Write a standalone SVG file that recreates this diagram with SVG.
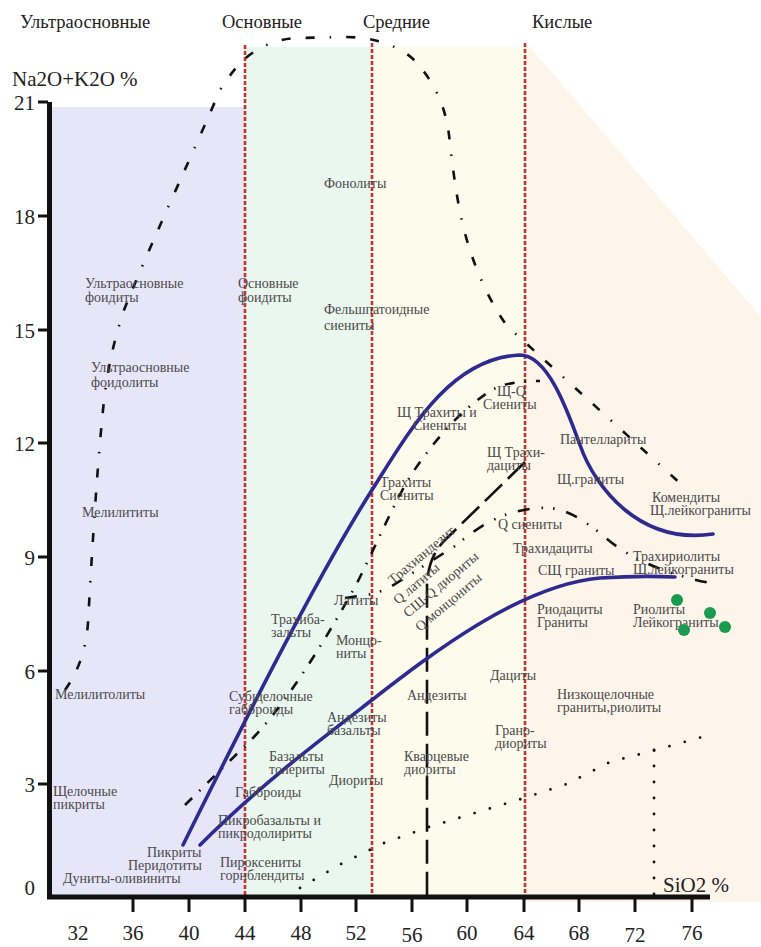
<svg xmlns="http://www.w3.org/2000/svg" width="761" height="947" viewBox="0 0 761 947">
<style>
.lbl{font-size:14px;fill:#4a4a4a}
.hd{font-size:18.5px;fill:#222}
.ax{font-size:21px;fill:#222}
.red{stroke:#c4332f;stroke-width:2.6;stroke-dasharray:4 2;fill:none}
.blue{stroke:#2e2a8f;stroke-width:3.6;fill:none;stroke-linecap:round}
.dd{stroke:#111;stroke-width:2.6;fill:none}
.tick{stroke:#111;stroke-width:3}
</style>
<rect width="761" height="947" fill="#fff"/>
<g id="backgrounds">
<rect x="52" y="107" width="193" height="790" fill="#e7e6f8"/>
<rect x="245" y="47" width="127" height="850" fill="#eaf7ef"/>
<rect x="372" y="47" width="153" height="850" fill="#fdfbec"/>
<polygon points="525,47 530,47 761,317 761,902 525,902" fill="#fdf5ea"/>
</g>
<g id="class-boundaries">
<line class="red" x1="245" y1="45" x2="245" y2="897"/>
<line class="red" x1="372" y1="43" x2="372" y2="897"/>
<line class="red" x1="525" y1="43" x2="525" y2="897"/>
</g>
<g id="headings" font-family="Liberation Serif, Times New Roman, serif">
<text class="hd" x="20" y="28">Ультраосновные</text>
<text class="hd" x="222" y="28">Основные</text>
<text class="hd" x="363" y="28">Средние</text>
<text class="hd" x="532" y="28">Кислые</text>
</g>
<g id="connectors">
<path class="dd" stroke-dasharray="9 15 9 15 1.5 15" d="M65,690 C78,672 86,650 88,623 C91,570 96,480 103,410 C107,370 114,340 124,310 C150,245 190,160 220,90 C230,75 237,65 247,57 C262,45 280,38 300,38 L345,37 C372,37 395,44 412,58 C432,78 445,103 449,135 C453,170 458,215 470,250 C478,275 490,302 507,326 L682,485"/>
<path class="dd" stroke-dasharray="10 10 1.5 10" d="M185,805 L248,743 C280,712 320,650 356,585 C375,548 395,500 413,472 C435,440 460,410 492,390 C505,383 520,381 540,381"/>
<path class="dd" stroke-dasharray="12 12 1.5 10 1.5 12" d="M345,598 L365,595 C375,594 385,590 392,586 L455,546 C470,534 485,522 505,515 C520,510 535,507 550,508 C570,510 585,522 600,533 C610,542 620,550 640,560 C660,570 685,578 710,583"/>
<path class="dd" stroke-dasharray="24 8" d="M525,462 L445,540 Q428,557 427,585 L427,897"/>
<path stroke="#111" stroke-width="2.8" stroke-linecap="round" fill="none" stroke-dasharray="0 15.9" d="M300,888 L341,864 L384,843 L429,827 L475,813 L521,799 L567,784 L610,762 L656,750 L702,737"/>
<path stroke="#111" stroke-width="2.8" stroke-linecap="round" fill="none" stroke-dasharray="0 16" d="M654,750 L654,896"/>
<path class="blue" d="M183,845 C240,730 315,580 372,490 C410,430 450,358 520,355 C548,355 568,412 580,445 C595,488 640,545 713,534"/>
<path class="blue" d="M200,845 C260,785 320,740 372,700 C430,655 520,585 600,578 C630,576 655,576 675,577"/>
</g>
<g id="axes">
<line x1="49.5" y1="102" x2="49.5" y2="899" stroke="#111" stroke-width="5"/>
<line x1="47" y1="897" x2="710" y2="897" stroke="#111" stroke-width="5"/>
<g class="tick">
<line x1="38" y1="102" x2="48" y2="102"/>
<line x1="38" y1="216" x2="48" y2="216"/>
<line x1="38" y1="330" x2="48" y2="330"/>
<line x1="38" y1="443" x2="48" y2="443"/>
<line x1="38" y1="557" x2="48" y2="557"/>
<line x1="38" y1="671" x2="48" y2="671"/>
<line x1="38" y1="784" x2="48" y2="784"/>
<line x1="133" y1="897" x2="133" y2="912"/>
<line x1="189" y1="897" x2="189" y2="912"/>
<line x1="245" y1="897" x2="245" y2="912"/>
<line x1="301" y1="897" x2="301" y2="912"/>
<line x1="356" y1="897" x2="356" y2="912"/>
<line x1="412" y1="897" x2="412" y2="912"/>
<line x1="467" y1="897" x2="467" y2="912"/>
<line x1="524" y1="897" x2="524" y2="912"/>
<line x1="579" y1="897" x2="579" y2="912"/>
<line x1="635" y1="897" x2="635" y2="912"/>
<line x1="692" y1="897" x2="692" y2="912"/>
</g>
<g font-family="Liberation Serif, Times New Roman, serif">
<g class="ax" text-anchor="end">
<text x="35" y="110">21</text>
<text x="35" y="224">18</text>
<text x="35" y="338">15</text>
<text x="35" y="451">12</text>
<text x="35" y="565">9</text>
<text x="35" y="679">6</text>
<text x="35" y="792">3</text>
<text x="35" y="895">0</text>
</g>
<g class="ax" text-anchor="middle">
<text x="78" y="940">32</text>
<text x="133" y="940">36</text>
<text x="189" y="940">40</text>
<text x="245" y="940">44</text>
<text x="301" y="940">48</text>
<text x="356" y="940">52</text>
<text x="412" y="942">56</text>
<text x="467" y="940">60</text>
<text x="524" y="940">64</text>
<text x="579" y="940">68</text>
<text x="635" y="942">72</text>
<text x="692" y="940">76</text>
</g>
<text class="ax" x="12" y="86" font-size="22">Na2O+K2O %</text>
<text class="ax" x="663" y="892" font-size="23">SiO2 %</text>
</g>
</g>
<g id="labels" class="lbl" font-family="Liberation Serif, Times New Roman, serif">
<text x="85" y="288">Ультраосновные</text>
<text x="85" y="302">фоидиты</text>
<text x="238" y="288">Основные</text>
<text x="238" y="302">фоидиты</text>
<text x="324" y="188">Фонолиты</text>
<text x="324" y="314">Фельшпатоидные</text>
<text x="324" y="330">сиениты</text>
<text x="91" y="372">Ультраосновные</text>
<text x="91" y="387">фоидолиты</text>
<text x="82" y="517">Мелилититы</text>
<text x="55" y="699">Мелилитолиты</text>
<text x="53" y="796">Щелочные</text>
<text x="53" y="809">пикриты</text>
<text x="147" y="857">Пикриты</text>
<text x="128" y="870">Перидотиты</text>
<text x="63" y="883">Дуниты-оливиниты</text>
<text x="229" y="701">Субщелочные</text>
<text x="229" y="714">габброиды</text>
<text x="271" y="624">Трахиба-</text>
<text x="271" y="637">зальты</text>
<text x="334" y="605">Латиты</text>
<text x="336" y="645">Монцо-</text>
<text x="336" y="658">ниты</text>
<text x="327" y="722">Андезиты</text>
<text x="327" y="735">базальты</text>
<text x="269" y="761">Базальты</text>
<text x="269" y="774">толериты</text>
<text x="329" y="785">Диориты</text>
<text x="235" y="797">Габброиды</text>
<text x="218" y="825">Пикробазальты и</text>
<text x="218" y="838">пикродолириты</text>
<text x="220" y="867">Пироксениты</text>
<text x="220" y="880">горнблендиты</text>
<text x="407" y="700">Андезиты</text>
<text x="404" y="761">Кварцевые</text>
<text x="404" y="774">диориты</text>
<text x="490" y="680">Дациты</text>
<text x="495" y="735">Грано-</text>
<text x="495" y="748">диориты</text>
<text x="557" y="699">Низкощелочные</text>
<text x="557" y="712">граниты,риолиты</text>
<text x="380" y="487">Трахиты</text>
<text x="380" y="500">Сиениты</text>
<text x="397" y="417">Щ Трахиты и</text>
<text x="413" y="430">Сиениты</text>
<text x="497" y="396">Щ-Q</text>
<text x="483" y="409">Сиениты</text>
<text x="487" y="457">Щ Трахи-</text>
<text x="487" y="470">дациты</text>
<text x="498" y="529">Q сиениты</text>
<text x="513" y="553">Трахидациты</text>
<text x="538" y="575">СЩ граниты</text>
<text x="537" y="614">Риодациты</text>
<text x="537" y="627">Граниты</text>
<text x="560" y="444">Пантеллариты</text>
<text x="557" y="484">Щ.граниты</text>
<text x="652" y="502">Комендиты</text>
<text x="650" y="515">Щ.лейкограниты</text>
<text x="633" y="561">Трахириолиты</text>
<text x="633" y="574">Щ.лейкограниты</text>
<text x="633" y="614">Риолиты</text>
<text x="633" y="627">Лейкограниты</text>
<text transform="translate(393,585) rotate(-40)">Трахиандезит</text>
<text transform="translate(398,605) rotate(-40)">Q латиты</text>
<text transform="translate(408,618) rotate(-40)">СЩ-Q диориты</text>
<text transform="translate(420,632) rotate(-40)">Q монцониты</text>
</g>
<g id="samples" fill="#1a9b50">
<circle cx="677" cy="600" r="6"/>
<circle cx="710" cy="613" r="6"/>
<circle cx="684" cy="630" r="6"/>
<circle cx="725" cy="627" r="6"/>
</g>
</svg>
